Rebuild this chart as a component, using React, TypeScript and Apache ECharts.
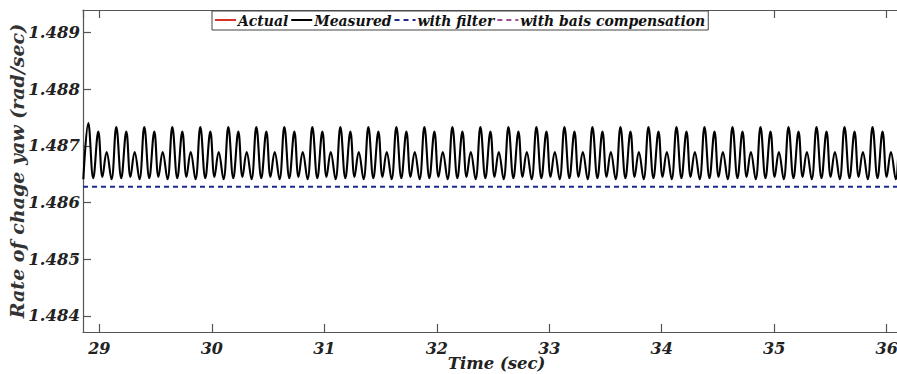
import React, { useEffect, useRef } from "react";
import * as echarts from "echarts";

// Axis ranges and ticks
const xMin = 28.855;
const xMax = 36.207;
const yMin = 1.483718;
const yMax = 1.489393;
const xTickLabels = ["29", "30", "31", "32", "33", "34", "35", "36"];
const yTickLabels = ["1.484", "1.485", "1.486", "1.487", "1.488", "1.489"];

// Series names
const seriesNames = ["Actual", "Measured", "with filter", "with bais compensation"];

// Measured signal: repeating cycle of three peaks (tall, medium, short)
const cycleStart = 28.902; // time of first tall peak (s)
const cyclePeriod = 0.249; // s
const peakOffsets = [0, 0.089, 0.163]; // tall, medium, short within a cycle
const troughOffsets = [0.044, 0.126, 0.206];
const tallPeaks = [
  1.4874, 1.48733, 1.48733, 1.48733, 1.48733, 1.48733, 1.48733, 1.48733, 1.48733, 1.48733,
  1.48733, 1.48733, 1.48733, 1.48733, 1.48733, 1.48733, 1.48733, 1.48733, 1.48733, 1.48733,
  1.48733, 1.48733, 1.48733, 1.48733, 1.48733, 1.48733, 1.48733, 1.48733, 1.48733, 1.48733,
];
const midPeaks = [
  1.48725, 1.48725, 1.48725, 1.48725, 1.48725, 1.48725, 1.48725, 1.48725, 1.48725, 1.48725,
  1.48725, 1.48725, 1.48725, 1.48725, 1.48725, 1.48725, 1.48725, 1.48725, 1.48725, 1.48725,
  1.48725, 1.48725, 1.48725, 1.48725, 1.48725, 1.48725, 1.48725, 1.48725, 1.48725, 1.48725,
];
const shortPeaks = [
  1.48689, 1.48689, 1.48689, 1.48689, 1.48689, 1.48689, 1.48689, 1.48689, 1.48689, 1.48689,
  1.48689, 1.48689, 1.48689, 1.48689, 1.48689, 1.48689, 1.48689, 1.48689, 1.48689, 1.48689,
  1.48689, 1.48689, 1.48689, 1.48689, 1.48689, 1.48689, 1.48689, 1.48689, 1.48689, 1.48689,
];
const troughs = [1.48643, 1.48645, 1.48641]; // after tall, after medium, after short
const measuredStart = [28.858, 1.48641];

// Filtered / compensated / actual (flat, overlapping; only "with filter" is visible on top)
const flatTimes = [28.855, 36.3];
const filteredValues = [1.48628, 1.48628];
const compensatedValues = [1.48628, 1.48628];
const actualValues = [1.48628, 1.48628];

const FONT = "DejaVu Serif";
const FONT_C = "'DejaVu Serif Condensed', 'DejaVu Serif'";

function buildMeasured(): number[][] {
  const out: number[][] = [measuredStart];
  for (let k = 0; k < tallPeaks.length; k++) {
    const t0 = cycleStart + k * cyclePeriod;
    out.push([t0 + peakOffsets[0], tallPeaks[k]]);
    out.push([t0 + troughOffsets[0], troughs[0]]);
    out.push([t0 + peakOffsets[1], midPeaks[k]]);
    out.push([t0 + troughOffsets[1], troughs[1]]);
    out.push([t0 + peakOffsets[2], shortPeaks[k]]);
    out.push([t0 + troughOffsets[2], troughs[2]]);
  }
  return out;
}

const pair = (ts: number[], vs: number[]) => ts.map((t, i) => [t, vs[i]]);

export default function App() {
  const ref = useRef<HTMLDivElement>(null);
  useEffect(() => {
    if (!ref.current) return;
    const chart = echarts.init(ref.current, null, { renderer: "svg" });
    const labelStyle = {
      fontFamily: FONT,
      fontWeight: "bold" as const,
      fontStyle: "italic" as const,
      color: "#222",
    };
    const axisLineStyle = { color: "#555", width: 1.2 };
    const DASH = [5, 4];
    chart.setOption({
      animation: false,
      backgroundColor: "#fff",
      grid: {
        left: 83,
        top: 10,
        width: 827,
        height: 322,
        containLabel: false,
        outerBoundsMode: "none",
      },
      legend: {
        left: 212,
        top: 11,
        itemWidth: 21,
        itemHeight: 10,
        itemGap: 2,
        padding: [1, 3, 2, 2],
        borderColor: "#444",
        borderWidth: 1,
        backgroundColor: "#fff",
        itemStyle: { opacity: 0 },
        textStyle: {
          ...labelStyle,
          fontFamily: FONT_C,
          fontSize: 15.5,
          color: "#111",
          padding: [0, 0, 0, -3],
        },
        data: [
          { name: seriesNames[0], lineStyle: { type: "solid", opacity: 1 } },
          { name: seriesNames[1] },
          { name: seriesNames[2] },
          { name: seriesNames[3], lineStyle: { opacity: 1 } },
        ],
      },
      xAxis: [
        {
          type: "value",
          min: xMin,
          max: xMax,
          minInterval: 1,
          maxInterval: 1,
          name: "Time (sec)",
          nameLocation: "middle",
          nameGap: 23,
          nameMoveOverlap: false,
          nameTextStyle: { ...labelStyle, fontSize: 16.5 },
          axisLine: { show: true, lineStyle: axisLineStyle },
          axisTick: { inside: true, length: 8, lineStyle: axisLineStyle },
          axisLabel: {
            ...labelStyle,
            fontSize: 16,
            margin: 8,
            showMinLabel: false,
            showMaxLabel: false,
            formatter: (v: number) => {
              const s = String(Math.round(v));
              return xTickLabels.includes(s) && Math.abs(v - Math.round(v)) < 1e-6 ? s : "";
            },
          },
          splitLine: { show: false },
        },
        {
          type: "value",
          position: "top",
          min: xMin,
          max: xMax,
          minInterval: 1,
          maxInterval: 1,
          axisLine: { show: true, lineStyle: axisLineStyle },
          axisTick: { inside: true, length: 8, lineStyle: axisLineStyle },
          axisLabel: { show: false },
          splitLine: { show: false },
        },
      ],
      yAxis: [
        {
          type: "value",
          min: yMin,
          max: yMax,
          minInterval: 0.001,
          maxInterval: 0.001,
          name: "Rate of chage yaw (rad/sec)",
          nameLocation: "middle",
          nameGap: 57,
          nameMoveOverlap: false,
          nameTextStyle: { ...labelStyle, fontSize: 19, color: "#333" },
          axisLine: { show: true, lineStyle: axisLineStyle },
          axisTick: { inside: true, length: 8, lineStyle: axisLineStyle },
          axisLabel: {
            ...labelStyle,
            fontSize: 16.5,
            margin: 3,
            showMinLabel: false,
            showMaxLabel: false,
            formatter: (v: number) => {
              const s = v.toFixed(3);
              return yTickLabels.includes(s) ? s : "";
            },
          },
          splitLine: { show: false },
        },
        {
          type: "value",
          position: "right",
          min: yMin,
          max: yMax,
          minInterval: 0.001,
          maxInterval: 0.001,
          axisLine: { show: true, lineStyle: axisLineStyle },
          axisTick: { inside: true, length: 8, lineStyle: axisLineStyle },
          axisLabel: { show: false },
          splitLine: { show: false },
        },
      ],
      series: [
        {
          name: seriesNames[0],
          type: "line",
          data: pair(flatTimes, actualValues),
          symbol: "none",
          z: 2,
          lineStyle: { color: "#d9302c", width: 2, type: DASH, opacity: 0 },
          itemStyle: { color: "#d9302c" },
        },
        {
          name: seriesNames[1],
          type: "line",
          data: buildMeasured(),
          symbol: "none",
          smooth: 0.4,
          z: 3,
          lineStyle: { color: "#000", width: 2.1 },
          itemStyle: { color: "#000" },
        },
        {
          name: seriesNames[2],
          type: "line",
          data: pair(flatTimes, filteredValues),
          symbol: "none",
          z: 5,
          lineStyle: { color: "#1f2a8c", width: 2, type: DASH },
          itemStyle: { color: "#1f2a8c" },
        },
        {
          name: seriesNames[3],
          type: "line",
          data: pair(flatTimes, compensatedValues),
          symbol: "none",
          z: 4,
          lineStyle: { color: "#9e4f95", width: 2, type: DASH, opacity: 0 },
          itemStyle: { color: "#9e4f95" },
        },
      ],
    });
    return () => chart.dispose();
  }, []);
  return (
    <div
      ref={ref}
      style={{ position: "absolute", left: 0, top: 0, width: 897, height: 374 }}
    />
  );
}
